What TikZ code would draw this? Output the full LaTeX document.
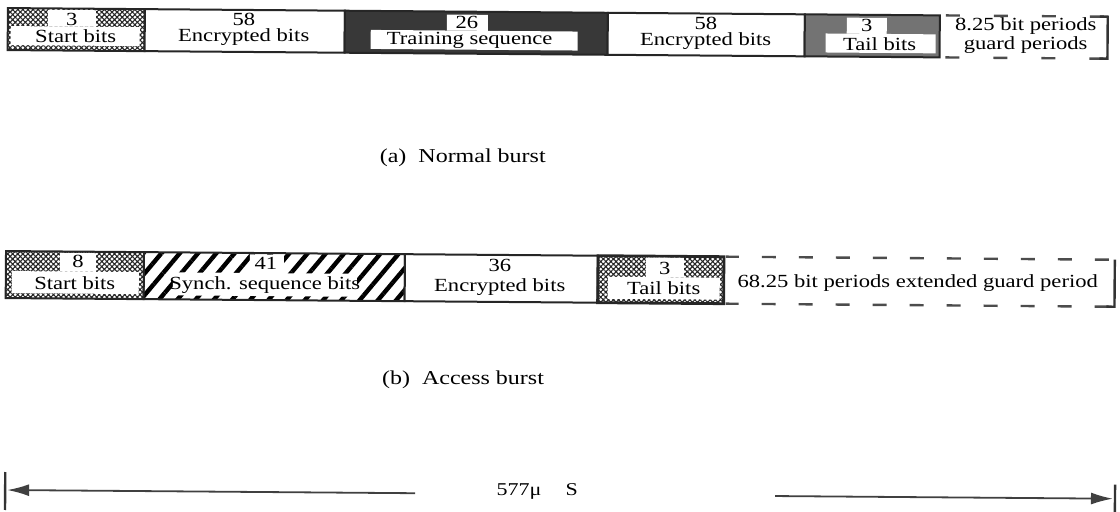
\documentclass[tikz,border=0pt]{standalone}
\usepackage{graphicx}
\usepackage{fontspec}
\setmainfont{Liberation Serif}
\usetikzlibrary{patterns.meta,arrows.meta}
\newcommand{\sq}[1]{\scalebox{1}[0.82]{#1}}
\begin{document}
\begin{tikzpicture}[x=0.5pt,y=-0.5pt,
  lbl/.style={inner sep=0pt,font=\fontsize{11.3pt}{13pt}\selectfont},
  captext/.style={inner sep=0pt,font=\fontsize{12pt}{14pt}\selectfont},
  frame/.style={draw=black!85,line width=1pt},
  check/.style={pattern={Hatch[angle=45,distance=1.8pt,line width=0.55pt]},pattern color=black!85},
  dark/.style={fill=black!78},
  midgray/.style={fill=black!55},
  stripes/.style={pattern={Lines[angle=50,distance=7pt,line width=2.2pt]},pattern color=black},
  hole/.style={fill=white},
  guardline/.style={draw=black!70,line width=1.2pt,dash pattern=on 7pt off 17pt},
  guardlineb/.style={draw=black!70,line width=1.2pt,dash pattern=on 7pt off 11.5pt,dash phase=-18pt},
  bar/.style={draw=black!80,line width=1.2pt},
  arr/.style={draw=black!75,line width=0.9pt},
]
\useasboundingbox (0,0) rectangle (1120,511);
\begin{scope}[rotate=-0.45]
% ---------------- Normal burst ----------------
\draw[frame,check] (8,8) rectangle (145,50);
\fill[hole] (48,9.5) rectangle (96,26);
\fill[hole] (11,26) rectangle (140,45);
\node[lbl] (a1n) at (72,18.5) {\sq{3}};
\node[lbl] (a1t) at (76,35.5) {\sq{Start bits}};
\draw[frame,fill=white] (145,8) rectangle (345,50);
\node[lbl] (a2n) at (244,18) {\sq{58}};
\node[lbl] (a2t) at (244,35) {\sq{Encrypted bits}};
\draw[frame,dark] (345,8) rectangle (608,50);
\fill[hole] (447,11) rectangle (488,27);
\fill[hole] (371,27) rectangle (578,46);
\node[lbl] (a3n) at (467,18.5) {\sq{26}};
\node[lbl] (a3t) at (470,37) {\sq{Training sequence}};
\draw[frame,fill=white] (608,8) rectangle (805,50);
\node[lbl] (a4n) at (706,18) {\sq{58}};
\node[lbl] (a4t) at (706,36) {\sq{Encrypted bits}};
\draw[frame,midgray] (805,8) rectangle (940,50);
\fill[hole] (847,11) rectangle (887,27);
\fill[hole] (826,27) rectangle (936,46);
\node[lbl] (a5n) at (867,19) {\sq{3}};
\node[lbl] (a5t) at (880,37) {\sq{Tail bits}};
\coordinate (g1a) at (946,8);
\coordinate (g1b) at (1108,8);
\coordinate (g1c) at (1108,50);
\coordinate (g1d) at (946,50);
\draw[guardline] (g1a) -- (g1b);
\draw[guardline] (g1d) -- (g1c);
\draw[bar] ([xshift=-4]g1b) -- (g1b) -- (g1c) -- ([xshift=-4]g1c);
\node[lbl] (a6a) at (1026,18) {\sq{8.25 bit periods}};
\node[lbl] (a6b) at (1026,37) {\sq{guard periods}};
\node[captext] (capa) at (464,154) {\sq{(a)\ \ Normal burst}};
% ---------------- Access burst ----------------
\draw[frame,check] (8,251) rectangle (146,298);
\fill[hole] (62,252.5) rectangle (98,271);
\fill[hole] (14,271) rectangle (141,293);
\node[lbl] (b1n) at (80,261) {\sq{8}};
\node[lbl] (b1t) at (77,283) {\sq{Start bits}};
\draw[frame,stripes] (146,251) rectangle (407,298);
\fill[hole] (252,252.5) rectangle (286,271);
\fill[hole] (175,271) rectangle (359,294);
\node[lbl] (b2n) at (268,261) {\sq{41}};
\node[lbl] (b2t) at (267,283) {\sq{Synch. sequence bits}};
\draw[frame,fill=white] (407,251) rectangle (600,298);
\node[lbl] (b3n) at (502,262) {\sq{36}};
\node[lbl] (b3t) at (502,283) {\sq{Encrypted bits}};
\draw[frame,check,line width=1.4pt] (600,251) rectangle (726,298);
\fill[hole] (648,252.5) rectangle (686,272);
\fill[hole] (610,272) rectangle (722,294);
\node[lbl] (b4n) at (667,263) {\sq{3}};
\node[lbl] (b4t) at (666,283) {\sq{Tail bits}};
\coordinate (g2a) at (728,251);
\coordinate (g2b) at (1117,251);
\coordinate (g2c) at (1117,298);
\coordinate (g2d) at (728,298);
\draw[guardlineb] (g2a) -- (g2b);
\draw[guardlineb] (g2d) -- (g2c);
\draw[bar] (g2b) -- (g2c) -- ([xshift=-4]g2c);
\node[lbl] (b5t) at (920,276) {\sq{68.25 bit periods extended guard period}};
\node[captext] (capb) at (466,376) {\sq{(b)\ \ Access burst}};
% ---------------- 577 us ----------------
\coordinate (lbt) at (9,472);
\coordinate (lbb) at (9,510);
\coordinate (la) at (419,490);
\coordinate (lb) at (11,490);
\coordinate (ra) at (779,490);
\coordinate (rb) at (1117,490);
\coordinate (rbt) at (1119,476);
\coordinate (rbb) at (1119,515);
\draw[bar] (lbt) -- (lbb);
\draw[bar] (rbt) -- (rbb);
\draw[arr,-{Latex[length=11pt,width=6pt]}] (la) -- (lb);
\draw[arr,-{Latex[length=11pt,width=6pt]}] (ra) -- (rb);
\node[captext,font=\fontsize{11pt}{14pt}\selectfont] (t577) at (541,487) {\sq{577μ\hspace{1.1em}S}};
\end{scope}
\end{tikzpicture}
\end{document}
